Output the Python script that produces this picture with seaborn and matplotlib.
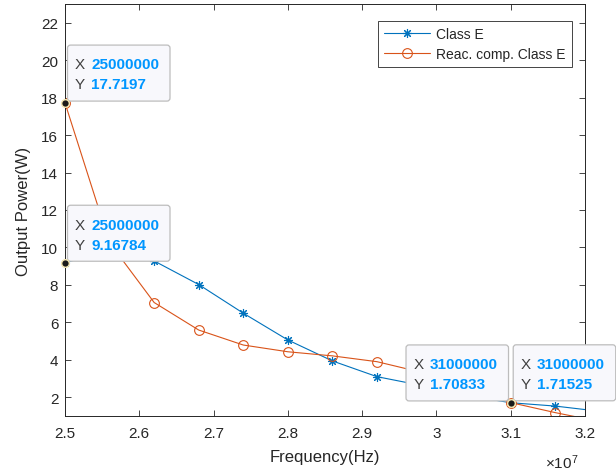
import matplotlib
matplotlib.use("Agg")
import matplotlib.pyplot as plt
import seaborn as sns
import pandas as pd
from matplotlib.patches import FancyBboxPatch
from matplotlib.transforms import Affine2D, ScaledTranslation
from matplotlib.ticker import FuncFormatter, FixedLocator

# ---------------- data ----------------
freq_hz = [25.0e6, 25.6e6, 26.2e6, 26.8e6, 27.4e6, 28.0e6, 28.6e6,
           29.2e6, 29.8e6, 30.4e6, 31.0e6, 31.6e6, 32.2e6]
class_e = [9.16784, 9.9, 9.28, 8.02, 6.49, 5.06, 3.94,
           3.10, 2.63, 2.10, 1.70833, 1.53, 1.25]
reac_comp = [17.7197, 10.25, 7.06, 5.59, 4.79, 4.43, 4.21,
             3.90, 3.33, 2.60, 1.71525, 1.18, 0.70]
series_names = ["Class E", "Reac. comp. Class E"]
x_ticks = [2.5e7, 2.6e7, 2.7e7, 2.8e7, 2.9e7, 3.0e7, 3.1e7, 3.2e7]
y_ticks = [2, 4, 6, 8, 10, 12, 14, 16, 18, 20, 22]
# data tips: (series index, point index, side of box)
tips = [(1, 0, "right"), (0, 0, "right"), (0, 10, "left"), (1, 10, "right")]

# ---------------- style ----------------
sns.set_theme(style="ticks")
plt.rcParams["font.family"] = ["Liberation Sans", "DejaVu Sans"]
plt.rcParams["mathtext.fontset"] = "custom"
plt.rcParams["mathtext.rm"] = "Liberation Sans"
AX_COL = "#262626"
COLORS = ["#0072BD", "#D95319"]

W, H = 616, 477
fig = plt.figure(figsize=(W / 100, H / 100), dpi=100)
ax = fig.add_axes([65 / W, 60 / H, 520 / W, 412 / H])

series = [class_e, reac_comp]
markers = [(8, 2, 0), "o"]
msizes = [6.5, 7]
for i, (name, vals) in enumerate(zip(series_names, series)):
    df = pd.DataFrame({"f": freq_hz, "p": vals})
    sns.lineplot(data=df, x="f", y="p", ax=ax, color=COLORS[i], lw=0.8,
                 marker=markers[i], ms=msizes[i], mfc="none",
                 mec=COLORS[i], mew=0.8, label=name, sort=False,
                 estimator=None)

ax.set_xlim(2.5e7, 3.2e7)
ax.set_ylim(1, 23)
ax.xaxis.set_major_locator(FixedLocator(x_ticks))
ax.yaxis.set_major_locator(FixedLocator(y_ticks))
ax.xaxis.set_major_formatter(FuncFormatter(lambda v, p: f"{v / 1e7:g}"))
ax.yaxis.set_major_formatter(FuncFormatter(lambda v, p: f"{v:g}"))

for s in ax.spines.values():
    s.set_visible(True)
    s.set_color(AX_COL)
    s.set_linewidth(0.7)
ax.tick_params(direction="in", length=4, width=0.6, colors=AX_COL,
               labelsize=11, top=True, right=True)
ax.tick_params(axis="x", pad=7.5)
ax.tick_params(axis="y", pad=4.8)

ax.set_xlabel("Frequency(Hz)", fontsize=12, color=AX_COL)
ax.set_ylabel("Output Power(W)", fontsize=12, color=AX_COL)
ax.xaxis.set_label_coords(0.5, (417 - 450) / 412)
ax.yaxis.set_label_coords((31 - 65) / 520, 0.5)

ax.text((578 - 65) / 520, (417 - 469) / 412, r"$\mathregular{\times10^{7}}$",
        transform=ax.transAxes, ha="right", va="baseline", fontsize=11,
        color=AX_COL)

leg = ax.legend(loc="upper right", bbox_to_anchor=((571.7 - 65) / 520, (417 - 21.7) / 412),
                borderaxespad=0, fontsize=10, frameon=True, fancybox=False,
                handlelength=3.3, handletextpad=0.45, borderpad=0.45,
                labelspacing=0.4, framealpha=1)
leg.get_frame().set_edgecolor(AX_COL)
leg.get_frame().set_linewidth(0.6)
for t in leg.get_texts():
    t.set_color(AX_COL)

# ---------------- data tips ----------------
BW, BH = 102.5, 56
for si, pi, side in tips:
    x = freq_hz[pi]
    y = series[si][pi]
    base = ScaledTranslation(x, y, ax.transData)
    x0 = 2.5 if side == "right" else -2.2 - BW
    y0 = 1.8
    box = FancyBboxPatch((x0, y0), BW, BH,
                         boxstyle="round,pad=0,rounding_size=3",
                         transform=base, fc="#F8F8FC", ec="#BDBDBD",
                         lw=0.9, zorder=8, clip_on=False)
    ax.add_patch(box)
    rows = [("X", f"{int(x)}"), ("Y", f"{y:g}")]
    for r, (lab, val) in enumerate(rows):
        yy = y0 + BH - 19.3 - 20 * r
        ax.text(0, 0, lab, transform=Affine2D().translate(x0 + 7.5, yy) + base,
                ha="left", va="center", fontsize=11, color="#404040",
                zorder=9, clip_on=False)
        ax.text(0, 0, val, transform=Affine2D().translate(x0 + 23.5, yy) + base,
                ha="left", va="center", fontsize=11, fontweight="bold",
                color="#0096FF", zorder=9, clip_on=False)
    ax.plot([x], [y], "o", ms=5.5, mfc="#1A1A1A", mec="#F3E4B0", mew=1.0,
            zorder=10, clip_on=False)

fig.savefig("out.png", dpi=100)
